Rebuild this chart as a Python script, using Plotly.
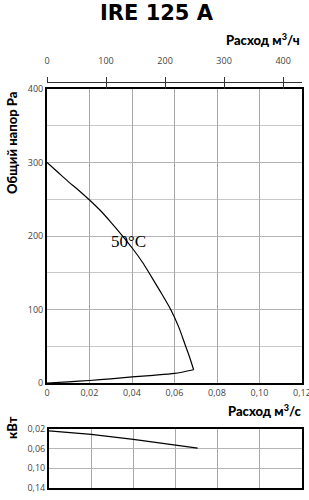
import plotly.graph_objects as go

# ---- data ----
upper_flow = [0, 0.005, 0.01, 0.015, 0.02, 0.025, 0.03, 0.035, 0.04, 0.045, 0.048,
              0.053, 0.0582, 0.062, 0.065, 0.067, 0.069]
upper_pressure = [300, 287, 274, 262, 249, 235, 219, 202, 184, 164, 150,
                  126, 100, 76, 52, 36, 18]
lower_flow = [0.069, 0.06, 0.05, 0.04, 0.03, 0.02, 0.01, 0]
lower_pressure = [18, 13, 10.5, 8.4, 5.7, 3.4, 1.6, 0]
flow_power = [0, 0.02, 0.04, 0.06, 0.0705]
power = [0.024, 0.031, 0.041, 0.052, 0.059]

x_ticks = [0, 0.02, 0.04, 0.06, 0.08, 0.10, 0.12]
x_ticktext = ["0", "0,02", "0,04", "0,06", "0,08", "0,10", "0,12"]
top_ticks = [0, 100, 200, 300, 400]
top_range = [0, 432]
y_ticks = [0, 100, 200, 300, 400]
p_ticks = [0.02, 0.06, 0.10, 0.14]
p_ticktext = ["0,02", "0,06", "0,10", "0,14"]

W, H = 309, 500
def px_x(v): return v / W
def px_y(v): return 1 - v / H

main_x = [px_x(47), px_x(302)]
main_y = [px_y(383), px_y(89)]
low_x = [px_x(49), px_x(302)]
low_y = [px_y(488), px_y(429)]

tick_font = dict(family="Open Sans", size=9, color="#444")
bold_font = dict(family="Lato", size=13, color="black", weight=900)

fig = go.Figure()
fig.add_trace(go.Scatter(x=upper_flow, y=upper_pressure, mode="lines",
                         line=dict(color="black", width=1.2, shape="spline", smoothing=0.8),
                         xaxis="x", yaxis="y", showlegend=False, hoverinfo="skip"))
fig.add_trace(go.Scatter(x=lower_flow, y=lower_pressure, mode="lines",
                         line=dict(color="black", width=1.2, shape="spline", smoothing=0.8),
                         xaxis="x", yaxis="y", showlegend=False, hoverinfo="skip"))
fig.add_trace(go.Scatter(x=flow_power, y=power, mode="lines",
                         line=dict(color="black", width=1.2), xaxis="x4", yaxis="y4",
                         showlegend=False, hoverinfo="skip"))
# invisible traces so the top (m3/h) axes are drawn
for ax in ("x2", "x3"):
    fig.add_trace(go.Scatter(x=top_range, y=[None, None], mode="lines", xaxis=ax, yaxis="y",
                             showlegend=False, hoverinfo="skip"))

common = dict(automargin=False)
fig.update_layout(
    width=W, height=H, margin=dict(l=0, r=0, t=0, b=0, autoexpand=False),
    paper_bgcolor="white", plot_bgcolor="white", showlegend=False,
    xaxis=dict(domain=main_x, range=[0, 0.12], tickvals=x_ticks, ticktext=x_ticktext,
               showgrid=True, gridcolor="#a8a8a8", gridwidth=1, zeroline=False,
               showline=True, linecolor="black", linewidth=2, mirror=True,
               ticks="", tickfont=tick_font, anchor="y", ticklabeloverflow="allow", **common),
    yaxis=dict(domain=main_y, range=[0, 400], tickvals=y_ticks,
               showgrid=True, gridcolor="#b5b5b5", gridwidth=1, zeroline=False,
               showline=True, linecolor="black", linewidth=2, mirror=True,
               ticks="", tickfont=tick_font, anchor="x", ticklabeloverflow="allow",
               minor=dict(dtick=50, showgrid=True, gridcolor="#c8c8c8", ticks=""), **common),
    xaxis2=dict(domain=main_x, range=top_range, tickvals=top_ticks, side="top",
                anchor="free", position=px_y(82), overlaying="x",
                showgrid=False, zeroline=False, showline=True, linecolor="#333",
                linewidth=1, ticks="outside", ticklen=5, tickcolor="#333",
                tickfont=tick_font, ticklabelstandoff=9, ticklabeloverflow="allow", **common),
    xaxis3=dict(domain=main_x, range=top_range, tickvals=top_ticks, side="top",
                anchor="free", position=px_y(82), overlaying="x",
                showgrid=False, zeroline=False, showline=False,
                ticks="inside", ticklen=6, tickcolor="#333", showticklabels=False, **common),
    xaxis4=dict(domain=low_x, range=[0, 0.12], tickvals=x_ticks,
                showgrid=True, gridcolor="#a8a8a8", zeroline=False,
                showline=True, linecolor="black", linewidth=2, mirror=True,
                showticklabels=False, ticks="", anchor="y4", **common),
    yaxis4=dict(domain=low_y, range=[0.14, 0.02], tickvals=p_ticks, ticktext=p_ticktext,
                showgrid=True, gridcolor="#b5b5b5", zeroline=False,
                showline=True, linecolor="black", linewidth=2, mirror=True,
                ticks="", tickfont=tick_font, anchor="x4", ticklabeloverflow="allow", **common),
)

def A(text, x, y, font, xanchor="center", angle=0, xref="paper", yref="paper"):
    return dict(text=text, x=x, y=y, xref=xref, yref=yref, xanchor=xanchor,
                yanchor="middle", textangle=angle, showarrow=False, font=font)

ann = [
    A("IRE 125 A", px_x(157), px_y(13),
      dict(family="DejaVu Sans", size=21, color="black", weight="bold")),
    A("Расход м<sup>3</sup>/ч", px_x(302), px_y(40), bold_font, xanchor="right"),
    A("Расход м<sup>3</sup>/с", px_x(303), px_y(410), bold_font, xanchor="right"),
    A("Общий напор Pa", px_x(12), px_y(143), bold_font, angle=-90),
    A("кВт", px_x(12), px_y(427), bold_font, angle=-90),
    A("50°C", 0.0385, 193, dict(family="Liberation Serif", size=17, color="black"),
      xref="x", yref="y"),
]
fig.update_layout(annotations=ann)

fig.write_html("out.html")
